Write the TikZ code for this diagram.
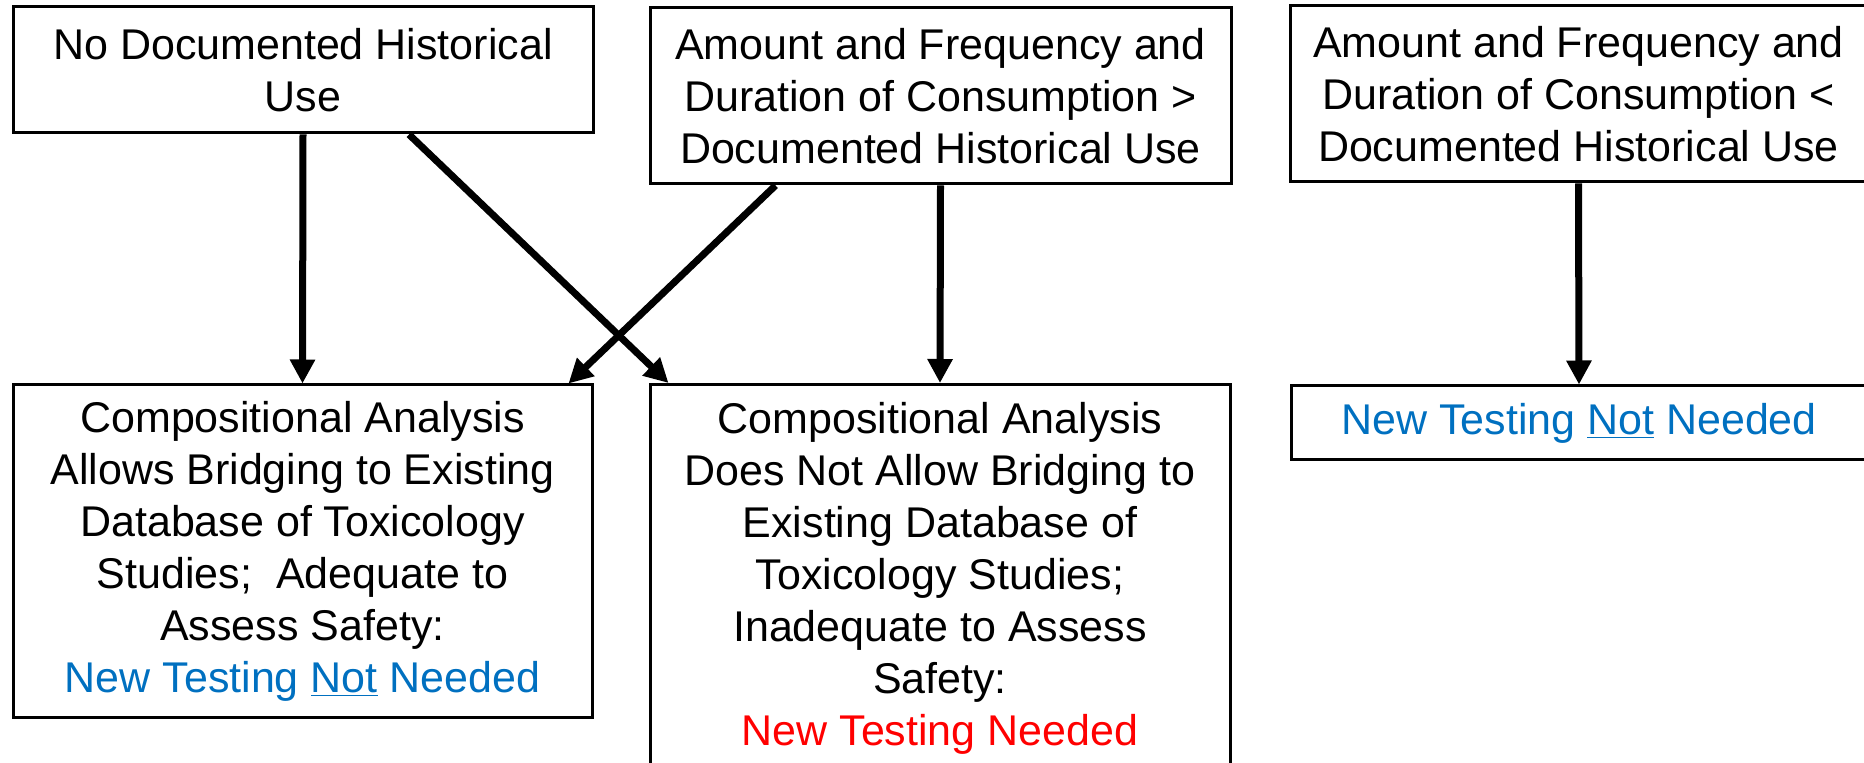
\documentclass[tikz,border=0pt]{standalone}
\usepackage{fontspec}
\setmainfont{Liberation Sans}
\usetikzlibrary{arrows.meta}
\definecolor{okblue}{HTML}{0070C0}
\definecolor{needred}{HTML}{FF0000}
\tikzset{
  box/.style={draw, line width=1.5pt, align=center, inner sep=0pt,
    font=\fontsize{21.5pt}{26pt}\selectfont},
  arr/.style={line width=3.5pt, -{Triangle[length=12pt,width=12pt]}}
}
\newcommand{\notneeded}{{\color{okblue}New Testing \underline{Not} Needed}}
\begin{document}
\begin{tikzpicture}[x=0.5pt,y=-0.5pt]
\useasboundingbox (0,0) rectangle (1864,763);
\clip (0,0) rectangle (1864,763);
% Top row
\node[box, minimum width=290pt, minimum height=63pt] (nohist) at (303,70)
  {No Documented Historical\\Use};
\node[box, minimum width=290.5pt, minimum height=88pt] (morecons) at (940.5,96)
  {Amount and Frequency and\\Duration of Consumption >\\Documented Historical Use};
\node[box, minimum width=288.5pt, minimum height=88pt] (lesscons) at (1578.5,94)
  {Amount and Frequency and\\Duration of Consumption <\\Documented Historical Use};
% Bottom row
\node[box, minimum width=289.5pt, minimum height=166.5pt] (bridge) at (302.5,551.5)
  {Compositional Analysis\\Allows Bridging to Existing\\Database of Toxicology\\Studies;\ \ Adequate to\\Assess Safety:\\\notneeded};
\node[box, minimum width=290pt, minimum height=193.5pt] (nobridge) at (940,578)
  {Compositional Analysis\\Does Not Allow Bridging to\\Existing Database of\\Toxicology Studies;\\Inadequate to Assess\\Safety:\\{\color{needred}New Testing Needed}};
\node[box, minimum width=288pt, minimum height=37pt] (notest) at (1579,423)
  {\notneeded};
% Arrows
\draw[arr] (nohist.south) -- (bridge.north);
\draw[arr] ([xshift=53pt]nohist.south) -- ([xshift=10pt]nobridge.north west);
\draw[arr] ([xshift=63.5pt]morecons.south west) -- ([xshift=-12.5pt]bridge.north east);
\draw[arr] (morecons.south) -- (nobridge.north);
\draw[arr] (lesscons.south) -- (notest.north);
\end{tikzpicture}
\end{document}
